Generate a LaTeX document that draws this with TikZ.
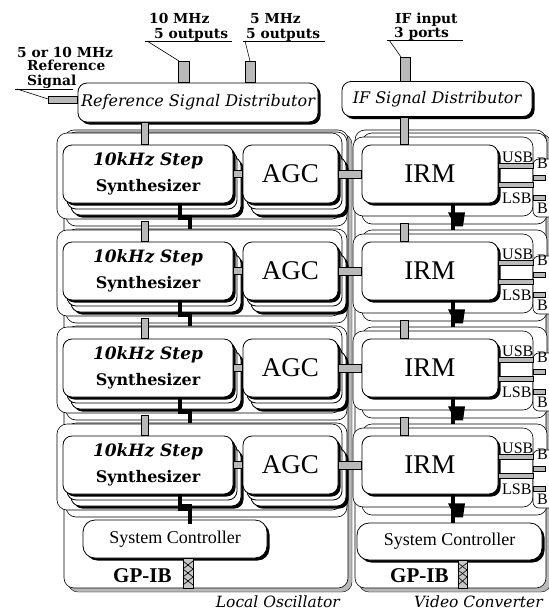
\documentclass[tikz,border=0pt]{standalone}
\usepackage{fontspec}
\setmainfont{DejaVu Serif}
\newfontfamily\romfont{Liberation Serif}
\usetikzlibrary{shadows,calc}
\begin{document}
\begin{tikzpicture}[x=1pt,y=-1pt,
  unitbox/.style={draw,fill=white,rounded corners=9pt,line width=0.8pt,inner sep=0pt},
  shadowed/.style={drop shadow={shadow xshift=2.5pt,shadow yshift=-2.5pt,fill=black,opacity=1}},
  card/.style={draw,fill=white,rounded corners=9pt,line width=0.8pt},
  rowframe/.style={draw,fill=white,rounded corners=10pt,line width=0.6pt},
  hatch/.style={draw,fill=gray!55,line width=0.4pt},
  bus/.style={line width=4.5pt},
  lead/.style={line width=0.6pt},
  lbl/.style={inner sep=0pt,font=\bfseries\fontsize{13.8}{15}\selectfont},
  dist/.style={font=\itshape\fontsize{16}{18}\selectfont},
  sect/.style={inner sep=0pt,font=\itshape\fontsize{15.5}{17}\selectfont},
  synth/.style={font=\bfseries\fontsize{16}{26}\selectfont,align=center},
  big/.style={font=\romfont\fontsize{27}{30}\selectfont},
  ctl/.style={font=\romfont\fontsize{18}{20}\selectfont},
  gpib/.style={inner sep=0pt,font=\romfont\bfseries\fontsize{21}{24}\selectfont},
  sb/.style={inner sep=0pt,font=\romfont\fontsize{16}{17}\selectfont},
]
\useasboundingbox (0,0) rectangle (549,611);

% enclosures with hatched shadow
\path[hatch,rounded corners=10pt] (68,134) rectangle (352,592);
\path[rowframe] (64,130) rectangle (348,588);
\path[hatch,rounded corners=10pt] (359,134) rectangle (551,592);
\path[rowframe] (355,130) rectangle (546,588);
\node[sect,anchor=base east] (lotitle) at (340,607) {Local Oscillator};
\node[sect,anchor=base east] (vctitle) at (543,607) {Video Converter};

% distributors
\node[unitbox,shadowed,dist,minimum width=240pt,minimum height=39pt] (ref) at (198,102.5) {Reference Signal Distributor};
\node[unitbox,shadowed,dist,minimum width=190pt,minimum height=35pt] (ifd) at (437,99) {IF Signal Distributor};

% external ports
\path[hatch] (48,96) rectangle ([yshift=-0.5pt]ref.west);
\path[hatch] (178,61) rectangle ([xshift=-9pt]ref.north);
\path[hatch] (245,61) rectangle ([xshift=57pt]ref.north);
\path[hatch] (400,57) rectangle ([xshift=-27pt]ifd.north);

\node[lbl,anchor=base west] (rin1) at (17,57) {5 or 10 MHz};
\node[lbl,anchor=base west] (rin2) at (27,70) {Reference};
\node[lbl,anchor=base west] (rin3) at (27,85) {Signal};
\draw[lead] (15,89) -- (73,89);
\draw[lead] (17,89) -- (48,99);

\node[lbl,anchor=base west] (o10a) at (149,23) {10 MHz};
\node[lbl,anchor=base west] (o10b) at (154,38) {5 outputs};
\draw[lead] (145,41) -- (232,41);
\draw[lead] (147,41) -- (179,61);

\node[lbl,anchor=base west] (o5a) at (250,23) {5 MHz};
\node[lbl,anchor=base west] (o5b) at (246,38) {5 outputs};
\draw[lead] (243,41) -- (325,41);
\draw[lead] (245,41) -- (250,61);

\node[lbl,anchor=base west] (ifa) at (395,23) {IF input};
\node[lbl,anchor=base west] (ifb) at (394,37) {3 ports};
\draw[lead] (387,40) -- (463,40);
\draw[lead] (389,40) -- (401,57);

% system controllers
\node[unitbox,shadowed,ctl,rounded corners=12pt,minimum width=184pt,minimum height=38pt] (loc) at (175,539) {System Controller};
\node[unitbox,shadowed,ctl,rounded corners=12pt,minimum width=185pt,minimum height=37pt] (vcc) at (449.5,541.5) {System Controller};

% module rows
\foreach \i in {0,1,2,3}{
  \pgfmathsetmacro{\y}{145+97*\i}
  % local oscillator row: frames and stacked cards
  \path[rowframe] (66,\y-13) rectangle (347,\y+81);
  \path[rowframe] (57,\y-12) rectangle (342,\y+74);
  \path[card,shadowed] (71,\y+12) rectangle (241,\y+70);
  \path[card] (67,\y+6) rectangle (237,\y+64);
  \path[card,shadowed] (251,\y+12) rectangle (346,\y+70);
  \path[card] (247,\y+6) rectangle (342,\y+64);
  \node[unitbox,shadowed,synth,minimum width=170pt,minimum height=58pt] (syn\i) at (148,\y+29)
    {\itshape\fontsize{17}{26}\selectfont 10kHz Step\\Synthesizer};
  \node[unitbox,shadowed,big,minimum width=95pt,minimum height=58pt] (agc\i) at (290.5,\y+29) {AGC};
  \path[hatch] ([yshift=4pt]syn\i.east) rectangle ([yshift=-3pt]agc\i.west);
  \draw[bus] ([xshift=32pt]syn\i.south) -- ++(0,14) -- ++(10,0) -- ++(0,16);
  % video converter row
  \path[rowframe] (362,\y-12) rectangle (547,\y+79);
  \path[rowframe] (353,\y-8) rectangle (533,\y+71);
  \path[rowframe,rounded corners=6pt] (533,\y+14) rectangle (556,\y+72);
  \path[hatch] (533,\y+30) rectangle (545,\y+35);
  \path[hatch] (533,\y+50) rectangle (545,\y+55);
  \node[sb,anchor=base west] (bu\i) at (537,\y+23) {B};
  \node[sb,anchor=base west] (bl\i) at (537,\y+68) {B};
  \node[unitbox,shadowed,big,minimum width=136pt,minimum height=58pt] (irm\i) at (430,\y+29) {IRM};
  \path[hatch] ([yshift=11pt]irm\i.east) rectangle ++(35,5);
  \path[hatch] ([yshift=-8pt]irm\i.east) rectangle ++(35,5);
  \node[sb,anchor=base west] (usb\i) at (502,\y+17) {USB};
  \node[sb,anchor=base west] (lsb\i) at (502,\y+58) {LSB};
  \draw[bus] ([xshift=23pt]irm\i.south) -- ++(0,28);
  \fill ([xshift=18pt,yshift=-9pt]irm\i.south) -- ++(17,0) -- ++(-2,14) -- ++(-8,0) -- cycle;
  % link between the two units
  \path[hatch] ([yshift=4pt]agc\i.east) rectangle ([yshift=-4pt]irm\i.west);
}

% reference and IF chains
\path[hatch] ([xshift=-57pt]ref.south) rectangle (syn0.north);
\path[hatch] ([xshift=-37pt]ifd.south) rectangle ([xshift=-22pt]irm0.north);
\foreach \h/\i in {0/1,1/2,2/3}{
  \path[hatch] ([xshift=-7pt,yshift=-18pt]syn\h.south) rectangle (syn\i.north);
  \path[hatch] ([xshift=-30pt,yshift=-20pt]irm\h.south) rectangle ([xshift=-22pt]irm\i.north);
}

% control buses to the controllers
\draw[bus] ([xshift=32pt]syn3.south) -- ++(0,12) -| ([xshift=15pt]loc.north);
\draw[bus] ([xshift=23pt]irm3.south) -- ([xshift=23pt]irm3.south |- vcc.north);

% GP-IB ports
\node[gpib,anchor=base west] (gpl) at (113,582) {GP-IB};
\node[gpib,anchor=base west] (gpv) at (390,582) {GP-IB};
\path[draw,fill=gray!45,line width=0.4pt] ([xshift=8pt]loc.south) rectangle (193,588);
\draw[line width=0.6pt] (183,561) -- (193,569) -- (183,577) -- (193,585);
\draw[line width=0.6pt] (193,561) -- (183,569) -- (193,577) -- (183,585);
\path[draw,fill=gray!45,line width=0.4pt] ([xshift=8.5pt]vcc.south) rectangle (467,588);
\draw[line width=0.6pt] (458,563) -- (467,570) -- (458,577) -- (467,585);
\draw[line width=0.6pt] (467,563) -- (458,570) -- (467,577) -- (458,585);
\end{tikzpicture}
\end{document}
